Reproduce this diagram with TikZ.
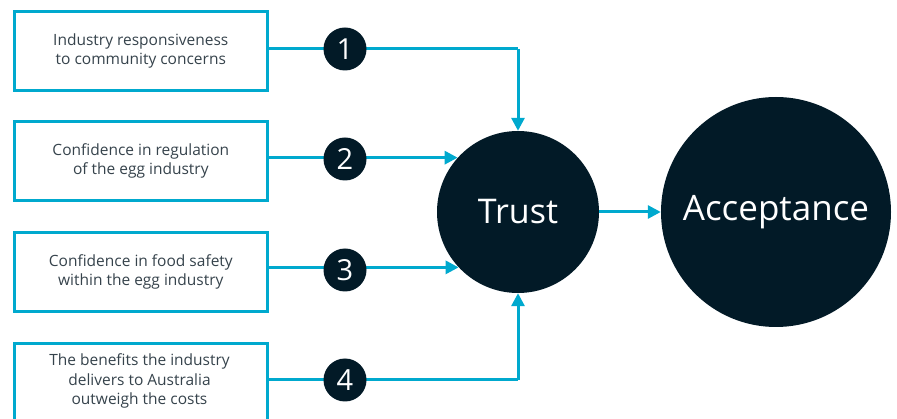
\documentclass[tikz,border=0pt]{standalone}
\usepackage{fontspec}
\setmainfont{Open Sans}
\usetikzlibrary{arrows.meta}
\definecolor{cyanline}{HTML}{00A9CE}
\definecolor{navy}{HTML}{021A27}
\definecolor{txtgray}{HTML}{36434C}
\tikzset{
  box/.style={draw=cyanline, line width=2.6pt, fill=white, minimum width=253pt, minimum height=79pt, inner sep=0pt, align=center, text=txtgray, font=\fontsize{15.5}{19.5}\selectfont, anchor=north west},
  numc/.style={circle, fill=navy, minimum size=43pt, inner sep=0pt, text=white, font=\fontsize{29}{29}\selectfont},
  big/.style={circle, fill=navy, inner sep=0pt, text=white},
  conn/.style={draw=cyanline, line width=3pt},
  arr/.style={conn, -{Triangle[length=13pt,width=13pt]}}
}
\begin{document}
\begin{tikzpicture}[x=1pt,y=-1pt]
\useasboundingbox (0,0) rectangle (897,419);
\clip (0,0) rectangle (897,419);
\node[box] (b1) at (13,10) {Industry responsiveness\\to community concerns};
\node[box] (b2) at (13,120) {Confidence in regulation\\of the egg industry};
\node[box] (b3) at (13,231) {Confidence in food safety\\within the egg industry};
\node[box, minimum height=95pt] (b4) at (13,342) {};
\node[text=txtgray, font=\fontsize{15.5}{19.5}\selectfont, align=center] (t4) at (139.5,381) {The benefits the industry\\delivers to Australia\\outweigh the costs};
\node[big, minimum size=162pt, font=\fontsize{34}{34}\selectfont] (trust) at (518,212) {Trust};
\node[big, minimum size=230pt, font=\fontsize{35}{35}\selectfont] (acc) at (776,212) {Acceptance};
\coordinate (k1) at (518,49);
\coordinate (k4) at (518,380);
\draw[conn] (b1.east |- k1) -- (k1);
\draw[arr] (k1) -- (trust.north);
\draw[arr] (b2.east |- trust.138) -- (trust.138);
\draw[arr] (b3.east |- trust.223) -- (trust.223);
\draw[conn] (b4.east |- k4) -- (k4);
\draw[arr] (k4) -- (trust.south);
\draw[arr] (trust.east) -- (acc.west);
\node[numc] (n1) at (345,49) {1};
\node[numc] (n2) at (345,159) {2};
\node[numc] (n3) at (345,270) {3};
\node[numc] (n4) at (345,380) {4};
\end{tikzpicture}
\end{document}
